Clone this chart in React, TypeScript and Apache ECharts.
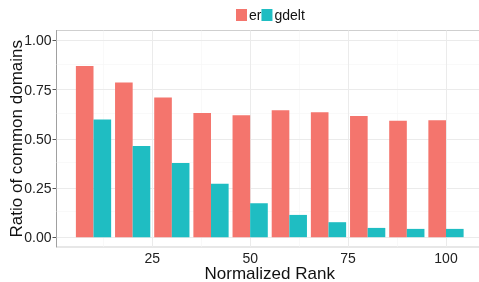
import { useEffect, useRef } from 'react';
import * as echarts from 'echarts';

const ranks = [10, 20, 30, 40, 50, 60, 70, 80, 90, 100];
const erValues = [0.869, 0.786, 0.709, 0.631, 0.62, 0.645, 0.635, 0.615, 0.591, 0.594];
const gdeltValues = [0.598, 0.463, 0.377, 0.271, 0.172, 0.113, 0.076, 0.047, 0.042, 0.042];
const yTicks = [0, 0.25, 0.5, 0.75, 1];
const yMinor = [0.125, 0.375, 0.625, 0.875];
const xTicks = [25, 50, 75, 100];
const xMinor = [12.5, 37.5, 62.5, 87.5];
const seriesNames = ['er', 'gdelt'];

const W = 479;
const H = 282;
const FONT = 'Liberation Sans, Arial, Helvetica, sans-serif';

export default function App() {
  const ref = useRef<HTMLDivElement>(null);
  useEffect(() => {
    if (!ref.current) return;
    const chart = echarts.init(ref.current, undefined, { renderer: 'svg' });
    const xMin = 0.55;
    const xMax = 109.45;
    const gridLeft = 56.5;
    const gridRight = -4;
    const gridWidth = W - gridLeft - gridRight;
    const barW = (4.5 * gridWidth) / (xMax - xMin);
    const majorLine = { color: '#ebebeb', width: 1, type: 'solid' };
    const minorLine = { color: '#f5f5f5', width: 0.6, type: 'solid' };
    const mk = (arr: number[], key: 'xAxis' | 'yAxis', style: any) =>
      arr.map((v) => ({ [key]: v, lineStyle: style }));
    chart.setOption({
      animation: false,
      textStyle: { fontFamily: FONT },
      legend: {
        data: seriesNames,
        left: 236,
        top: 8,
        padding: 0,
        itemGap: 0,
        itemWidth: 11,
        itemHeight: 12,
        icon: 'rect',
        textStyle: { fontSize: 14, color: '#111', fontFamily: FONT, padding: [0, 0, 0, -3] },
      },
      grid: {
        left: gridLeft,
        right: gridRight,
        top: 30.5,
        bottom: 35,
        show: true,
        containLabel: false,
        outerBoundsMode: 'none',
        borderColor: '#cfcfcf',
        borderWidth: 1,
        backgroundColor: '#fff',
      },
      xAxis: {
        type: 'value',
        min: xMin,
        max: xMax,
        name: 'Normalized Rank',
        nameLocation: 'middle',
        nameGap: 19,
        nameMoveOverlap: false,
        nameTextStyle: { fontSize: 17, lineHeight: 15, color: '#111', fontFamily: FONT },
        axisLine: { show: true, lineStyle: { color: '#8c8c8c', width: 1 } },
        axisTick: { show: true, length: 4, customValues: xTicks, lineStyle: { color: '#555' } },
        axisLabel: { customValues: xTicks, fontSize: 14, lineHeight: 12, color: '#222', margin: 5, fontFamily: FONT },
        splitLine: { show: false },
      },
      yAxis: {
        type: 'value',
        min: -0.05,
        max: 1.05,
        name: 'Ratio of common domains',
        nameLocation: 'middle',
        nameGap: 32,
        nameMoveOverlap: false,
        nameTextStyle: { fontSize: 17, lineHeight: 17, color: '#111', fontFamily: FONT },
        axisLine: { show: true, lineStyle: { color: '#a0a0a0', width: 1 } },
        axisTick: { show: true, length: 4, customValues: yTicks, lineStyle: { color: '#555' } },
        axisLabel: {
          customValues: yTicks,
          fontSize: 14,
          color: '#222',
          margin: 5,
          fontFamily: FONT,
          formatter: (v: number) => v.toFixed(2),
        },
        splitLine: { show: false },
      },
      series: [
        {
          name: 'gridlines',
          type: 'line',
          data: [],
          silent: true,
          markLine: {
            z: 1,
            silent: true,
            symbol: ['none', 'none'],
            label: { show: false },
            lineStyle: { type: 'solid' },
            data: [
              ...mk(yMinor, 'yAxis', minorLine),
              ...mk(xMinor, 'xAxis', minorLine),
              ...mk(yTicks, 'yAxis', majorLine),
              ...mk(xTicks, 'xAxis', majorLine),
            ],
          },
        },
        {
          name: seriesNames[0],
          type: 'bar',
          barWidth: barW,
          barGap: '0%',
          z: 3,
          itemStyle: { color: '#F4756D' },
          data: ranks.map((r, i) => [r, erValues[i]]),
        },
        {
          name: seriesNames[1],
          type: 'bar',
          barWidth: barW,
          barGap: '0%',
          z: 3,
          itemStyle: { color: '#1FBDC2' },
          data: ranks.map((r, i) => [r, gdeltValues[i]]),
        },
      ],
    });
    return () => chart.dispose();
  }, []);
  return <div ref={ref} style={{ width: W, height: H, position: 'fixed', left: 0, top: 0 }} />;
}
